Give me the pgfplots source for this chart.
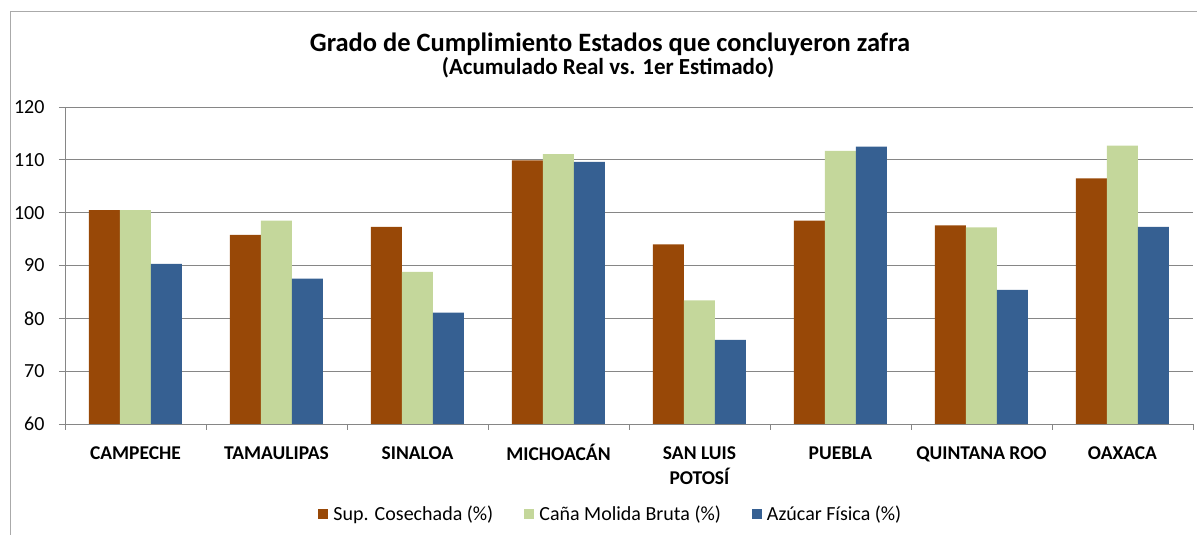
\documentclass[border=0pt]{standalone}
\usepackage{pgfplots}
\pgfplotsset{compat=1.18}
\usepackage{fontspec}
\setmainfont{Carlito}
\definecolor{cBrown}{HTML}{984807}
\definecolor{cGreen}{HTML}{C4D79B}
\definecolor{cBlue}{HTML}{366092}
\definecolor{cGrid}{HTML}{868686}
\newcommand\cs{\rule{0pt}{15pt}}
\begin{document}
\begin{tikzpicture}
\path[use as bounding box] (0pt,0pt) rectangle (1197pt,535pt);
\draw[cGrid!70, line width=0.8pt] (10pt,0pt) -- (10pt,524pt) -- (1197pt,524pt);
\node[font=\bfseries\fontsize{26.5}{26.5}\selectfont, anchor=base] at (610pt,483pt) {Grado de Cumplimiento Estados que concluyeron zafra};
\node[font=\bfseries\fontsize{23}{23}\selectfont, anchor=base] at (608pt,460pt) {(Acumulado Real vs. 1er Estimado)};
\begin{axis}[
  at={(65pt,111pt)}, anchor=south west,
  scale only axis, width=1128pt, height=317pt,
  ybar=0pt, bar width=31pt,
  xmin=-0.5, xmax=7.5, ymin=60, ymax=120,
  ytick={60,70,...,120},
  xtick={0,...,7},
  xticklabels={\cs CAMPECHE,\cs TAMAULIPAS,\cs SINALOA,\cs MICHOACÁN,{\cs SAN LUIS\\\cs POTOSÍ},\cs PUEBLA,\cs QUINTANA ROO,\cs OAXACA},
  xticklabel style={font=\bfseries\fontsize{19.5}{25}\selectfont, align=center, anchor=north, yshift=-10.5pt},
  yticklabel style={font=\fontsize{20}{20}\selectfont, xshift=-11pt},
  /pgf/number format/assume math mode=true,
  minor xtick={-0.5,0.5,...,7.5},
  major x tick style={draw=none},
  minor tick length=6pt, major tick length=6pt,
  tick align=outside,
  tick style={cGrid, line width=0.8pt},
  ymajorgrids, grid style={cGrid, line width=0.8pt},
  axis line style={cGrid, line width=0.8pt},
  axis x line*=bottom, axis y line*=left,
  clip=false,
  legend columns=3,
  legend style={at={(0.484,-0.284)}, anchor=center, draw=none, font=\fontsize{20}{20}\selectfont,
    /tikz/every even column/.append style={column sep=29pt}},
  legend image code/.code={\fill[#1] (0pt,-5pt) rectangle (10pt,5pt); \path (13pt,0pt);},
]
\addplot[fill=cBrown, draw=none] coordinates {(0,100.5) (1,95.8) (2,97.3) (3,109.9) (4,94.0) (5,98.5) (6,97.6) (7,106.5)};
\addplot[fill=cGreen, draw=none] coordinates {(0,100.5) (1,98.5) (2,88.8) (3,111.1) (4,83.4) (5,111.7) (6,97.2) (7,112.7)};
\addplot[fill=cBlue, draw=none] coordinates {(0,90.3) (1,87.5) (2,81.1) (3,109.6) (4,75.9) (5,112.5) (6,85.4) (7,97.3)};
\legend{Sup. Cosechada (\%),Caña Molida Bruta (\%),Azúcar Física (\%)}
\end{axis}
\end{tikzpicture}
\end{document}
